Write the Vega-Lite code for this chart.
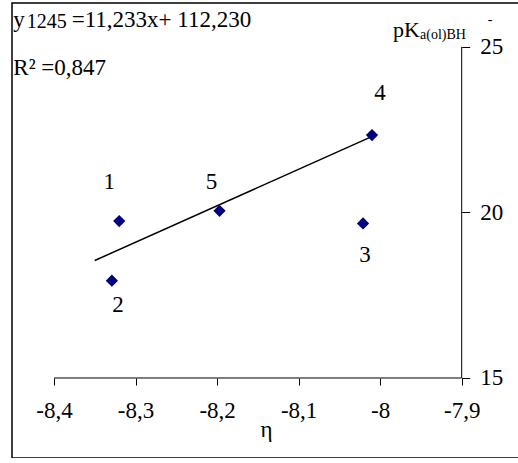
{
  "$schema": "https://vega.github.io/schema/vega-lite/v6.json",
  "width": 508,
  "height": 455,
  "autosize": {"type": "none"},
  "padding": {"left": 12, "top": 3, "right": 0, "bottom": 0},
  "background": "white",
  "config": {
    "view": {"stroke": "black", "strokeWidth": 1.5},
    "font": "Liberation Serif",
    "text": {"font": "Liberation Serif", "color": "black"}
  },
  "datasets": {
    "points": [
      {"id": "1", "eta": -8.32, "pK": 19.74},
      {"id": "2", "eta": -8.329, "pK": 17.94},
      {"id": "3", "eta": -8.021, "pK": 19.67},
      {"id": "4", "eta": -8.01, "pK": 22.34},
      {"id": "5", "eta": -8.197, "pK": 20.05}
    ],
    "fit": [
      {"eta": -8.35, "pK": 18.55},
      {"eta": -8.0125, "pK": 22.27}
    ],
    "one": [{}]
  },
  "layer": [
    {
      "data": {"name": "one"},
      "mark": {"type": "rule", "color": "black", "strokeWidth": 1},
      "encoding": {
        "x": {"datum": -8.4, "type": "quantitative", "scale": {"domain": [-8.45151, -7.8285], "nice": false, "zero": false}},
        "x2": {"datum": -7.9},
        "y": {"datum": 15, "type": "quantitative", "scale": {"domain": [12.583, 26.329], "nice": false, "zero": false}}
      }
    },
    {
      "data": {"name": "one"},
      "mark": {"type": "rule", "color": "black", "strokeWidth": 1},
      "encoding": {
        "x": {"datum": -7.9, "type": "quantitative", "scale": {"domain": [-8.45151, -7.8285], "nice": false, "zero": false}},
        "y": {"datum": 15, "type": "quantitative", "scale": {"domain": [12.583, 26.329], "nice": false, "zero": false}},
        "y2": {"datum": 25}
      }
    },
    {
      "data": {"name": "fit"},
      "mark": {"type": "line", "color": "black", "strokeWidth": 1.5},
      "encoding": {
        "x": {"field": "eta", "type": "quantitative", "scale": {"domain": [-8.45151, -7.8285], "nice": false, "zero": false}},
        "y": {"field": "pK", "type": "quantitative", "scale": {"domain": [12.583, 26.329], "nice": false, "zero": false}}
      }
    },
    {
      "data": {"name": "points"},
      "mark": {"type": "point", "shape": "diamond", "filled": true, "color": "#000080", "size": 150, "opacity": 1},
      "encoding": {
        "x": {
          "field": "eta", "type": "quantitative",
          "scale": {"domain": [-8.45151, -7.8285], "nice": false, "zero": false},
          "axis": {
            "orient": "bottom", "offset": -80, "domain": false, "grid": false,
            "values": [-8.4, -8.3, -8.2, -8.1, -8, -7.9],
            "tickSize": 7, "tickColor": "black", "tickWidth": 1,
            "labelFont": "Liberation Serif", "labelFontSize": 23, "labelColor": "black",
            "labelPadding": 14, "labelFlush": false, "labelOverlap": false, "labelBound": false,
            "labelExpr": "replace(replace(format(datum.value, '.1~f'), '.', ','), '\u2212', '-')",
            "title": "η", "titleFont": "Liberation Serif", "titleFontSize": 23,
            "titleFontWeight": "normal", "titleColor": "black", "titlePadding": -4
          }
        },
        "y": {
          "field": "pK", "type": "quantitative",
          "scale": {"domain": [12.583, 26.329], "nice": false, "zero": false},
          "axis": {
            "orient": "right", "offset": -58.3, "domain": false, "grid": false,
            "values": [15, 20, 25],
            "tickSize": 8, "tickColor": "black", "tickWidth": 1,
            "labelFont": "Liberation Serif", "labelFontSize": 23, "labelColor": "black",
            "labelPadding": 10, "labelFlush": false, "labelOverlap": false, "labelBound": false,
            "title": null
          }
        }
      }
    },
    {
      "data": {"name": "points"},
      "transform": [{"filter": "datum.id === '1'"}],
      "mark": {"type": "text", "fontSize": 23, "align": "center", "baseline": "middle", "dx": -10, "dy": -39},
      "encoding": {
        "x": {"field": "eta", "type": "quantitative", "scale": {"domain": [-8.45151, -7.8285], "nice": false, "zero": false}},
        "y": {"field": "pK", "type": "quantitative", "scale": {"domain": [12.583, 26.329], "nice": false, "zero": false}},
        "text": {"field": "id"}
      }
    },
    {
      "data": {"name": "points"},
      "transform": [{"filter": "datum.id === '2'"}],
      "mark": {"type": "text", "fontSize": 23, "align": "center", "baseline": "middle", "dx": 6, "dy": 24},
      "encoding": {
        "x": {"field": "eta", "type": "quantitative", "scale": {"domain": [-8.45151, -7.8285], "nice": false, "zero": false}},
        "y": {"field": "pK", "type": "quantitative", "scale": {"domain": [12.583, 26.329], "nice": false, "zero": false}},
        "text": {"field": "id"}
      }
    },
    {
      "data": {"name": "points"},
      "transform": [{"filter": "datum.id === '3'"}],
      "mark": {"type": "text", "fontSize": 23, "align": "center", "baseline": "middle", "dx": 2, "dy": 32},
      "encoding": {
        "x": {"field": "eta", "type": "quantitative", "scale": {"domain": [-8.45151, -7.8285], "nice": false, "zero": false}},
        "y": {"field": "pK", "type": "quantitative", "scale": {"domain": [12.583, 26.329], "nice": false, "zero": false}},
        "text": {"field": "id"}
      }
    },
    {
      "data": {"name": "points"},
      "transform": [{"filter": "datum.id === '4'"}],
      "mark": {"type": "text", "fontSize": 23, "align": "center", "baseline": "middle", "dx": 8, "dy": -42},
      "encoding": {
        "x": {"field": "eta", "type": "quantitative", "scale": {"domain": [-8.45151, -7.8285], "nice": false, "zero": false}},
        "y": {"field": "pK", "type": "quantitative", "scale": {"domain": [12.583, 26.329], "nice": false, "zero": false}},
        "text": {"field": "id"}
      }
    },
    {
      "data": {"name": "points"},
      "transform": [{"filter": "datum.id === '5'"}],
      "mark": {"type": "text", "fontSize": 23, "align": "center", "baseline": "middle", "dx": -8, "dy": -29},
      "encoding": {
        "x": {"field": "eta", "type": "quantitative", "scale": {"domain": [-8.45151, -7.8285], "nice": false, "zero": false}},
        "y": {"field": "pK", "type": "quantitative", "scale": {"domain": [12.583, 26.329], "nice": false, "zero": false}},
        "text": {"field": "id"}
      }
    },
    {
      "data": {"name": "one"},
      "mark": {"type": "text", "text": "y", "fontSize": 23, "align": "left", "baseline": "alphabetic"},
      "encoding": {
        "x": {"datum": -8.4499, "type": "quantitative", "scale": {"domain": [-8.45151, -7.8285], "nice": false, "zero": false}},
        "y": {"datum": 25.604, "type": "quantitative", "scale": {"domain": [12.583, 26.329], "nice": false, "zero": false}}
      }
    },
    {
      "data": {"name": "one"},
      "mark": {"type": "text", "text": "1245", "fontSize": 20, "align": "left", "baseline": "alphabetic"},
      "encoding": {
        "x": {"datum": -8.4335, "type": "quantitative", "scale": {"domain": [-8.45151, -7.8285], "nice": false, "zero": false}},
        "y": {"datum": 25.58, "type": "quantitative", "scale": {"domain": [12.583, 26.329], "nice": false, "zero": false}}
      }
    },
    {
      "data": {"name": "one"},
      "mark": {"type": "text", "text": "=11,233x+ 112,230", "fontSize": 23, "align": "left", "baseline": "alphabetic"},
      "encoding": {
        "x": {"datum": -8.3783, "type": "quantitative", "scale": {"domain": [-8.45151, -7.8285], "nice": false, "zero": false}},
        "y": {"datum": 25.604, "type": "quantitative", "scale": {"domain": [12.583, 26.329], "nice": false, "zero": false}}
      }
    },
    {
      "data": {"name": "one"},
      "mark": {"type": "text", "text": "R² =0,847", "fontSize": 23, "align": "left", "baseline": "alphabetic"},
      "encoding": {
        "x": {"datum": -8.4499, "type": "quantitative", "scale": {"domain": [-8.45151, -7.8285], "nice": false, "zero": false}},
        "y": {"datum": 24.154, "type": "quantitative", "scale": {"domain": [12.583, 26.329], "nice": false, "zero": false}}
      }
    },
    {
      "data": {"name": "one"},
      "mark": {"type": "text", "text": "pK", "fontSize": 22, "align": "left", "baseline": "alphabetic"},
      "encoding": {
        "x": {"datum": -7.9842, "type": "quantitative", "scale": {"domain": [-8.45151, -7.8285], "nice": false, "zero": false}},
        "y": {"datum": 25.302, "type": "quantitative", "scale": {"domain": [12.583, 26.329], "nice": false, "zero": false}}
      }
    },
    {
      "data": {"name": "one"},
      "mark": {"type": "text", "text": "a(ol)BH", "fontSize": 14, "align": "left", "baseline": "alphabetic"},
      "encoding": {
        "x": {"datum": -7.9511, "type": "quantitative", "scale": {"domain": [-8.45151, -7.8285], "nice": false, "zero": false}},
        "y": {"datum": 25.24, "type": "quantitative", "scale": {"domain": [12.583, 26.329], "nice": false, "zero": false}}
      }
    },
    {
      "data": {"name": "one"},
      "mark": {"type": "text", "text": "-", "fontSize": 14, "align": "center", "baseline": "middle"},
      "encoding": {
        "x": {"datum": -7.8653, "type": "quantitative", "scale": {"domain": [-8.45151, -7.8285], "nice": false, "zero": false}},
        "y": {"datum": 25.816, "type": "quantitative", "scale": {"domain": [12.583, 26.329], "nice": false, "zero": false}}
      }
    }
  ]
}
